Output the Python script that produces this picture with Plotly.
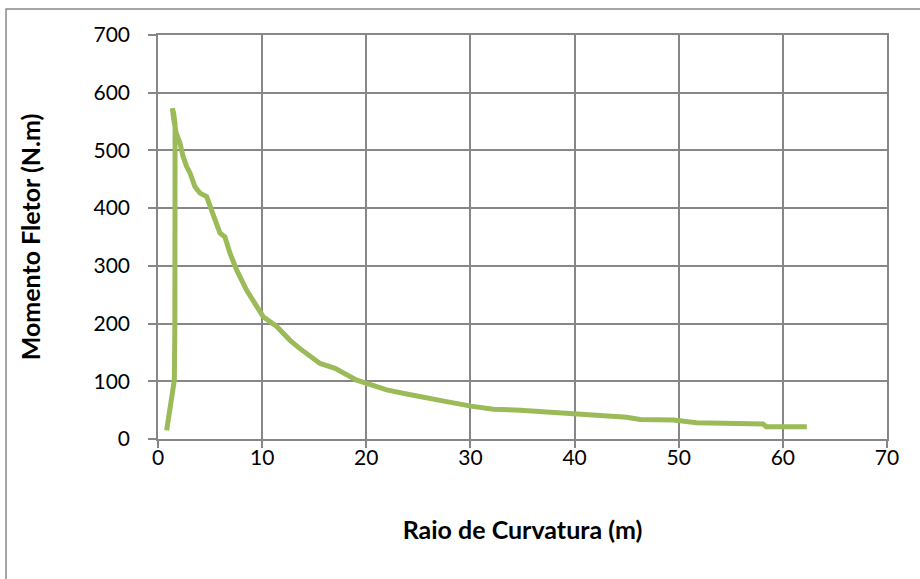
import plotly.graph_objects as go

# Raio de Curvatura (m)
raio = [0.83, 1.0, 1.15, 1.4, 1.57, 1.62, 1.64, 1.66, 1.64, 1.5, 1.38, 1.5, 1.75, 2.11, 2.4, 2.75,
        3.07, 3.55, 4.03, 4.67, 4.99, 5.47, 5.95, 6.43, 6.91, 7.55, 8.5, 9.48, 10.1, 11.4,
        12.68, 13.6, 15.56, 17.0, 19.08, 20.04, 21.96, 23.88, 25.8, 27.7, 30.05, 32.2,
        34.8, 38.6, 42.4, 45.0, 46.3, 49.5, 51.7, 58.1, 58.4, 62.3]
# Momento Fletor (N.m)
momento = [15, 35, 50, 85, 102, 200, 350, 500, 545, 565, 573, 555, 530, 513, 490, 472,
           461, 437, 426, 420, 402, 380, 357, 350, 322, 293, 258, 229, 212, 195,
           171, 157, 131, 122.5, 102, 96.5, 85, 78, 70.5, 64.7, 57, 51.4,
           50, 45.6, 41.6, 37.6, 34, 33, 28, 26, 21.3, 21.3]

x_ticks = [0, 10, 20, 30, 40, 50, 60, 70]
y_ticks = [0, 100, 200, 300, 400, 500, 600, 700]

GRID = "#878787"
FONT = "Lato, Open Sans, sans-serif"

fig = go.Figure()
fig.add_trace(go.Scatter(x=raio, y=momento, mode="lines",
                         line=dict(color="#9BBB59", width=5, shape="linear"),
                         showlegend=False, hoverinfo="x+y"))

fig.update_layout(
    width=920, height=579,
    margin=dict(l=158, r=33, t=35, b=140),
    paper_bgcolor="white", plot_bgcolor="white",
    font=dict(family=FONT, size=21, color="black"),
    xaxis=dict(range=[0, 70], tickvals=x_ticks, showgrid=True, gridcolor=GRID, gridwidth=1.5,
               showline=True, linecolor=GRID, linewidth=1.5, mirror=True,
               ticks="outside", ticklen=7, tickcolor=GRID, tickwidth=1.5,
               ticklabelstandoff=-8,
               zeroline=False,
               title=dict(text="<b>Raio de Curvatura (m)</b>", font=dict(family=FONT, size=25), standoff=54)),
    yaxis=dict(range=[0, 700], tickvals=y_ticks, showgrid=True, gridcolor=GRID, gridwidth=1.5,
               showline=True, linecolor=GRID, linewidth=1.5, mirror=True,
               ticks="outside", ticklen=8, tickcolor=GRID, tickwidth=1.5,
               ticklabelstandoff=14,
               zeroline=False,
               title=dict(text="<b>Momento Fletor (N.m)</b>", font=dict(family=FONT, size=25), standoff=46)),
    shapes=[dict(type="rect", xref="paper", yref="paper",
                 x0=(6 - 158) / 729, x1=1.2, y0=-0.6, y1=(439 - 9) / 404,
                 line=dict(color="#898989", width=1.5), layer="below")],
)

fig.write_html("out.html")
